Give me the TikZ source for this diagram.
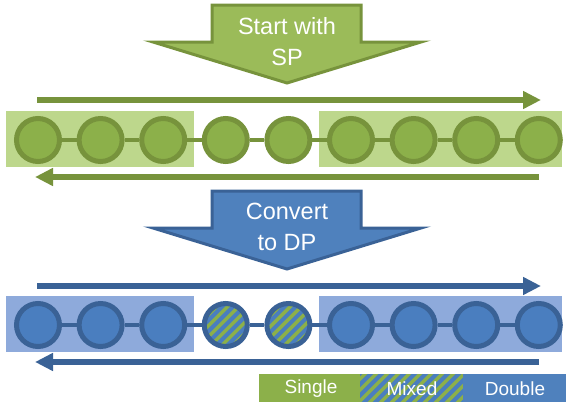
\documentclass[tikz,border=0pt]{standalone}
\usepackage{fontspec}
\setmainfont{Liberation Sans}
\usetikzlibrary{arrows.meta}
\definecolor{gdark}{HTML}{77933C}
\definecolor{gfill}{HTML}{8CB04A}
\definecolor{garr}{HTML}{9BBB59}
\definecolor{gbox}{HTML}{BDD78C}
\definecolor{bdark}{HTML}{3A6296}
\definecolor{bfill}{HTML}{4A7EBF}
\definecolor{barr}{HTML}{4F81BD}
\definecolor{bbox}{HTML}{8EAADB}
\begin{document}
\begin{tikzpicture}[x=1pt,y=-1pt,
  bigtext/.style={text=white,align=center,font=\fontsize{23.5}{31}\selectfont,inner sep=0},
  legtext/.style={text=white,font=\fontsize{19}{22}\selectfont,inner sep=0},
  gcirc/.style={circle,draw=gdark,fill=gfill,line width=5pt,minimum size=43pt,inner sep=0},
  bcirc/.style={circle,draw=bdark,fill=bfill,line width=5pt,minimum size=43pt,inner sep=0},
  stripes/.style={path picture={\foreach \k in {-10,...,10}{\draw[bfill,line width=4pt] ([shift={(\k*11-40,40)}]path picture bounding box.center) -- ++(80,-80);}}},
  mcirc/.style={circle,draw=bdark,fill=gfill,line width=5pt,minimum size=43pt,inner sep=0,stripes},
  gconn/.style={draw=gdark,line width=4.5pt},
  bconn/.style={draw=bdark,line width=4.5pt},
  garrowline/.style={draw=gdark,line width=6pt},
  barrowline/.style={draw=bdark,line width=6pt},
  tip/.style={-{Triangle[length=18pt,width=17pt]}}]
\useasboundingbox (0,0) rectangle (566,402);
% ---------- top block arrow
\draw[draw=gdark,fill=garr,line width=3pt,line join=miter]
  (212,5) -- (361,5) -- (361,42) -- (421,42) -- (287,83) -- (153,42) -- (212,42) -- cycle;
\node[bigtext] (t1) at (287,42) {Start with\\SP};
% ---------- green row
\coordinate (ga) at (37,100); \coordinate (gb) at (541,100);
\draw[garrowline,tip] (ga) -- (gb);
\coordinate (gc) at (539,177); \coordinate (gd) at (35,177);
\draw[garrowline,tip] (gc) -- (gd);
\fill[gbox] (6,111) rectangle (194,167);
\fill[gbox] (319,111) rectangle (562,167);
\foreach \i in {1,...,9}{\node[gcirc] (g\i) at ({38+62.6*(\i-1)},140) {};}
\foreach \i/\j in {1/2,2/3,3/4,4/5,5/6,6/7,7/8,8/9}{\draw[gconn] (g\i) -- (g\j);}
% ---------- blue block arrow
\draw[draw=bdark,fill=barr,line width=3pt,line join=miter]
  (212,191) -- (361,191) -- (361,228) -- (421,228) -- (287,269) -- (153,228) -- (212,228) -- cycle;
\node[bigtext] (t2) at (287,227) {Convert\\to DP};
% ---------- blue row
\coordinate (ba) at (37,286); \coordinate (bb) at (541,286);
\draw[barrowline,tip] (ba) -- (bb);
\coordinate (bc) at (539,362); \coordinate (bd) at (35,362);
\draw[barrowline,tip] (bc) -- (bd);
\fill[bbox] (6,296) rectangle (194,352);
\fill[bbox] (319,296) rectangle (562,352);
\foreach \i in {1,2,3,6,7,8,9}{\node[bcirc] (b\i) at ({38+62.6*(\i-1)},325) {};}
\foreach \i in {4,5}{\node[mcirc] (b\i) at ({38+62.6*(\i-1)},325) {};}
\foreach \i/\j in {1/2,2/3,3/4,4/5,5/6,6/7,7/8,8/9}{\draw[bconn] (b\i) -- (b\j);}
% ---------- legend
\path[fill=gfill] (259,374) rectangle (360,402);
\path[fill=gfill,stripes] (360,374) rectangle (463,402);
\path[fill=barr] (463,374) rectangle (566,402);
\node[legtext] (l1) at (311,389) {Single};
\node[legtext] (l2) at (412,389) {Mixed};
\node[legtext] (l3) at (515,389) {Double};
\end{tikzpicture}
\end{document}
